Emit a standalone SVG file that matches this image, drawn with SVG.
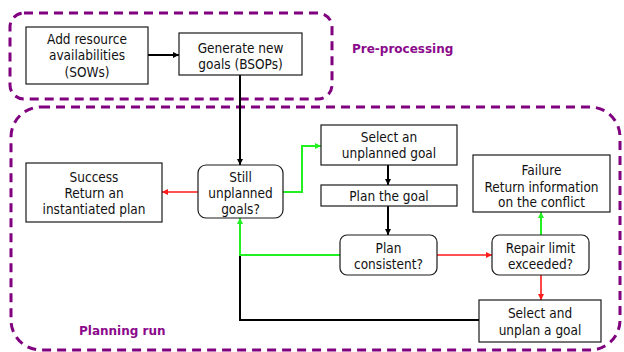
<svg xmlns="http://www.w3.org/2000/svg" width="624" height="352" viewBox="0 0 624 352">
  <style>
    .box { fill: #fff; stroke: #1a1a1a; stroke-width: 1.2; }
    .txt { font-family: "DejaVu Sans Condensed", "DejaVu Sans", sans-serif; font-stretch: condensed; font-size: 13.5px; fill: #111; text-anchor: middle; }
    .zone { fill: none; stroke: #800080; stroke-width: 3; stroke-dasharray: 9 6; }
    .zlabel { font-family: "DejaVu Sans", sans-serif; font-weight: bold; font-size: 12px; fill: #8B0A8B; }
    .k { fill: none; stroke: #000; stroke-width: 2; }
    .g { fill: none; stroke: #22f022; stroke-width: 2; }
    .r { fill: none; stroke: #ff1a1a; stroke-width: 1.6; }
  </style>
  <defs>
    <marker id="ak" markerUnits="userSpaceOnUse" markerWidth="7" markerHeight="7" refX="6" refY="3" orient="auto">
      <path d="M0,0 L6,3 L0,6 z" fill="#000"/>
    </marker>
    <marker id="ag" markerUnits="userSpaceOnUse" markerWidth="7" markerHeight="7" refX="6" refY="3" orient="auto">
      <path d="M0,0 L6,3 L0,6 z" fill="#22f022"/>
    </marker>
    <marker id="ar" markerUnits="userSpaceOnUse" markerWidth="7" markerHeight="7" refX="6" refY="3" orient="auto">
      <path d="M0,0 L6,3 L0,6 z" fill="#ff1a1a"/>
    </marker>
  </defs>

  <!-- zones -->
  <g id="zones">
    <rect class="zone" x="10" y="13" width="322" height="86" rx="14"/>
    <rect class="zone" x="11" y="107" width="609" height="243" rx="30"/>
    <text class="zlabel" x="352" y="53">Pre-processing</text>
    <text class="zlabel" x="79" y="335">Planning run</text>
  </g>

  <!-- connectors -->
  <g id="connectors">
    <path class="k" d="M148,55 H179" marker-end="url(#ak)"/>
    <path class="k" d="M240,75 V165" marker-end="url(#ak)"/>
    <path class="r" d="M198,192 H162" marker-end="url(#ar)"/>
    <path class="g" d="M283,192 H302 V146 H321" marker-end="url(#ag)"/>
    <path class="k" d="M388,165 V185" marker-end="url(#ak)"/>
    <path class="k" d="M388,206 V235" marker-end="url(#ak)"/>
    <path class="r" d="M437,255 H492" marker-end="url(#ar)"/>
    <path class="g" d="M541,235 V212" marker-end="url(#ag)"/>
    <path class="r" d="M541,275 V300" marker-end="url(#ar)"/>
    <path class="k" d="M479,320 H240 V255"/>
    <path class="g" d="M340,255 H240 V218" marker-end="url(#ag)"/>
  </g>

  <!-- nodes -->
  <g id="add-resources">
    <rect class="box" x="26" y="27" width="122" height="57"/>
    <text class="txt" x="87" y="43.5">Add resource</text>
    <text class="txt" x="87" y="60">availabilities</text>
    <text class="txt" x="87" y="76.5">(SOWs)</text>
  </g>
  <g id="generate-goals">
    <rect class="box" x="179" y="33" width="123" height="42"/>
    <text class="txt" x="240.5" y="53">Generate new</text>
    <text class="txt" x="240.5" y="69">goals (BSOPs)</text>
  </g>
  <g id="success">
    <rect class="box" x="26" y="163" width="136" height="59"/>
    <text class="txt" x="94" y="181.5">Success</text>
    <text class="txt" x="94" y="198">Return an</text>
    <text class="txt" x="94" y="214">instantiated plan</text>
  </g>
  <g id="still-unplanned">
    <rect class="box" x="198" y="165" width="85" height="53" rx="8"/>
    <text class="txt" x="240.5" y="181.5">Still</text>
    <text class="txt" x="240.5" y="198">unplanned</text>
    <text class="txt" x="240.5" y="213.5">goals?</text>
  </g>
  <g id="select-goal">
    <rect class="box" x="321" y="125" width="136" height="40"/>
    <text class="txt" x="389" y="141.5">Select an</text>
    <text class="txt" x="389" y="158">unplanned goal</text>
  </g>
  <g id="plan-goal">
    <rect class="box" x="321" y="185" width="136" height="21"/>
    <text class="txt" x="389" y="200.5">Plan the goal</text>
  </g>
  <g id="plan-consistent">
    <rect class="box" x="340" y="235" width="97" height="40" rx="7"/>
    <text class="txt" x="388.5" y="253">Plan</text>
    <text class="txt" x="388.5" y="269">consistent?</text>
  </g>
  <g id="repair-limit">
    <rect class="box" x="492" y="235" width="97" height="40" rx="7"/>
    <text class="txt" x="540.5" y="253">Repair limit</text>
    <text class="txt" x="540.5" y="269">exceeded?</text>
  </g>
  <g id="failure">
    <rect class="box" x="473" y="155" width="137" height="57"/>
    <text class="txt" x="541.5" y="175">Failure</text>
    <text class="txt" x="541.5" y="191.5">Return information</text>
    <text class="txt" x="541.5" y="207">on the conflict</text>
  </g>
  <g id="unplan-goal">
    <rect class="box" x="479" y="300" width="122" height="42"/>
    <text class="txt" x="540" y="318">Select and</text>
    <text class="txt" x="540" y="335">unplan a goal</text>
  </g>
</svg>
